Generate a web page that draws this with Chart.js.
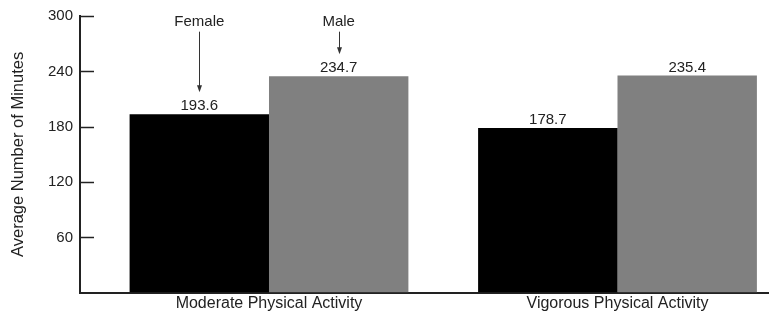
<!DOCTYPE html>
<html>
<head>
<meta charset="utf-8">
<script src="https://cdn.jsdelivr.net/npm/chart.js@4"></script>
<style>
  html, body { margin: 0; padding: 0; background: #fff; overflow: hidden; }
  #wrap { width: 769px; height: 314px; }
</style>
</head>
<body>
<div id="wrap"><canvas id="activityChart"></canvas></div>
<script>
var categories = ['Moderate Physical Activity', 'Vigorous Physical Activity'];
var femaleMinutes = [193.6, 178.7];
var maleMinutes = [234.7, 235.4];
var yTicks = [60, 120, 180, 240, 300];
// arrow callouts over the first group
var callouts = [
    { text: 'Female', dataset: 0, index: 0 },
    { text: 'Male', dataset: 1, index: 0 }
];

var FONT = 'Liberation Sans, Arial, Helvetica, sans-serif';
var TEXT = '#222';

function points(values) {
    return values.map(function (v, i) { return { x: i, y: v }; });
}

// short inward tick marks on the y axis
var innerTicks = {
    id: 'innerTicks',
    afterDraw: function (chart) {
        var ctx = chart.ctx;
        var y = chart.scales.y;
        var left = chart.chartArea.left;
        ctx.save();
        ctx.strokeStyle = '#222';
        ctx.lineWidth = 1.5;
        yTicks.forEach(function (t) {
            var py = Math.round(y.getPixelForValue(t)) + 0.5;
            ctx.beginPath();
            ctx.moveTo(left, py);
            ctx.lineTo(left + 14, py);
            ctx.stroke();
        });
        ctx.restore();
    }
};

var valueLabels = {
    id: 'valueLabels',
    afterDatasetsDraw: function (chart) {
        var ctx = chart.ctx;
        ctx.save();
        ctx.font = '15px ' + FONT;
        ctx.fillStyle = TEXT;
        ctx.textAlign = 'center';
        ctx.textBaseline = 'alphabetic';
        chart.data.datasets.forEach(function (ds, di) {
            chart.getDatasetMeta(di).data.forEach(function (bar, i) {
                ctx.fillText(ds.data[i].y.toFixed(1), bar.x, bar.y - 4);
            });
        });

        // Female / Male arrows
        var y = chart.scales.y;
        callouts.forEach(function (c) {
            var bar = chart.getDatasetMeta(c.dataset).data[c.index];
            var x = Math.round(bar.x) + 0.5;
            ctx.fillText(c.text, bar.x, y.getPixelForValue(296) + 6);
            var top = y.getPixelForValue(283);
            var tip = bar.y - 22;
            ctx.strokeStyle = '#333';
            ctx.lineWidth = 1;
            ctx.beginPath();
            ctx.moveTo(x, top);
            ctx.lineTo(x, tip - 5);
            ctx.stroke();
            ctx.fillStyle = '#333';
            ctx.beginPath();
            ctx.moveTo(x - 2.5, tip - 7);
            ctx.lineTo(x + 2.5, tip - 7);
            ctx.lineTo(x, tip);
            ctx.closePath();
            ctx.fill();
            ctx.fillStyle = TEXT;
        });
        ctx.restore();
    }
};

var ctx = document.getElementById('activityChart').getContext('2d');
var activityChart = new Chart(ctx, {
    type: 'bar',
    data: {
        datasets: [{
            label: 'Female',
            data: points(femaleMinutes),
            backgroundColor: '#000000',
            categoryPercentage: 0.8,
            barPercentage: 1.0
        }, {
            label: 'Male',
            data: points(maleMinutes),
            backgroundColor: '#808080',
            categoryPercentage: 0.8,
            barPercentage: 1.0
        }]
    },
    options: {
        responsive: true,
        maintainAspectRatio: false,
        animation: false,
        layout: { padding: { top: 16, left: 0, right: 0, bottom: 0 } },
        plugins: {
            legend: { display: false },
            tooltip: { enabled: false }
        },
        scales: {
            x: {
                type: 'linear',
                offset: false,
                min: -0.5423,
                max: 1.4347,
                grid: { offset: false, drawOnChartArea: false, drawTicks: false },
                border: { display: true, color: '#222', width: 2 },
                ticks: {
                    stepSize: 1,
                    includeBounds: false,
                    padding: 1,
                    color: TEXT,
                    font: { family: FONT, size: 16, lineHeight: 1.2 },
                    maxRotation: 0,
                    autoSkip: false,
                    callback: function (v) {
                        return Number.isInteger(v) && categories[v] ? categories[v] : '';
                    }
                }
            },
            y: {
                min: 0,
                max: 300,
                afterFit: function (scale) { scale.width = 80; },
                grid: { drawOnChartArea: false, drawTicks: false },
                border: { display: true, color: '#222', width: 2 },
                ticks: {
                    stepSize: 60,
                    padding: 7,
                    color: TEXT,
                    font: { family: FONT, size: 15 },
                    callback: function (v) { return v === 0 ? '' : v; }
                },
                title: {
                    display: true,
                    text: 'Average Number of Minutes',
                    color: TEXT,
                    font: { family: FONT, size: 16.5 },
                    padding: { top: 9, bottom: 0 }
                }
            }
        }
    },
    plugins: [innerTicks, valueLabels]
});
</script>
</body>
</html>
